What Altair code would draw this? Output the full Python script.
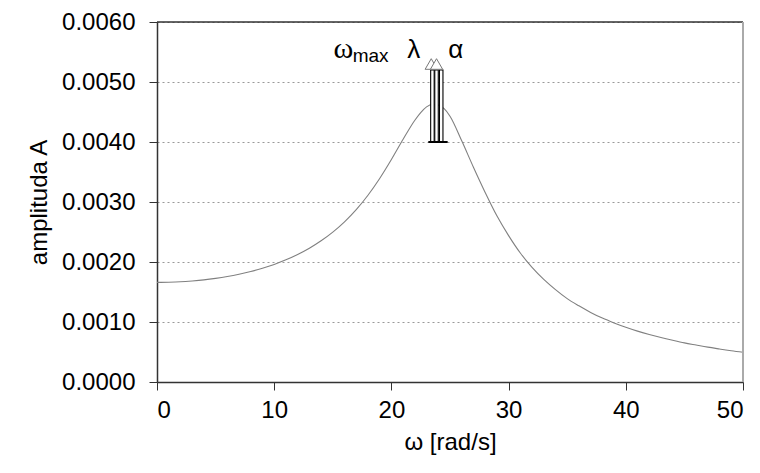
import altair as alt
import pandas as pd

# Curve (omega in rad/s, amplitude in 1e-3 units)
omega = [0, 1, 2, 3, 4, 5, 6, 7, 8, 9, 10, 11, 12, 13, 14, 15, 16, 17, 18, 19,
         20, 21, 22, 22.5, 23, 23.5, 24, 24.5, 25, 26, 27, 28, 29, 30, 31, 32, 33,
         34, 35, 36, 37, 38, 39, 40, 41, 42, 43, 44, 45, 46, 47, 48, 49, 50]
amp_e3 = [1.660, 1.663, 1.670, 1.684, 1.702, 1.727, 1.758, 1.796, 1.841, 1.896,
          1.960, 2.036, 2.125, 2.229, 2.353, 2.498, 2.670, 2.873, 3.113, 3.392,
          3.708, 4.045, 4.362, 4.490, 4.585, 4.625, 4.615, 4.555, 4.430, 4.020,
          3.580, 3.160, 2.770, 2.440, 2.150, 1.910, 1.710, 1.540, 1.390, 1.270,
          1.160, 1.065, 0.985, 0.913, 0.848, 0.792, 0.741, 0.695, 0.652, 0.616,
          0.581, 0.550, 0.520, 0.495]
amplitude = [a / 1000 for a in amp_e3]

# Markers for omega_max, lambda, alpha
marker_omega = [23.5, 23.85, 24.25]
marker_base = 0.0040
marker_top = 0.0052
head_omega = [23.4, 23.85]
head_amp = 0.0053
label_text = ["ω", "max", "λ", "α"]

y_ticks = [0, 0.001, 0.002, 0.003, 0.004, 0.005, 0.006]
x_ticks = [0, 10, 20, 30, 40, 50]

FONT = "Liberation Sans"

df = pd.DataFrame({"omega": omega, "A": amplitude})
dm = pd.DataFrame({"w": marker_omega, "lo": [marker_base] * 3, "hi": [marker_top] * 3})
dh = pd.DataFrame({"w": head_omega, "a": [head_amp] * 2})
one = pd.DataFrame({"k": [0]})

xs = alt.Scale(domain=[0, 50], nice=False, zero=False)
ys = alt.Scale(domain=[0, 0.006], nice=False)

x_axis = alt.Axis(values=x_ticks, format="d", grid=False, title="ω [rad/s]",
                  labelFontSize=24, titleFontSize=24, labelFont=FONT, titleFont=FONT,
                  titleFontWeight="normal", labelColor="black", titleColor="black",
                  domainColor="#333", tickColor="#333", tickSize=8, labelPadding=8,
                  titlePadding=8, domainWidth=1.5)
y_axis = alt.Axis(values=y_ticks, format=".4f", grid=True, gridDash=[2, 3],
                  gridColor="#999", title="amplituda A",
                  labelFontSize=24, titleFontSize=24, labelFont=FONT, titleFont=FONT,
                  titleFontWeight="normal", labelColor="black", titleColor="black",
                  domainColor="#333", tickColor="#333", tickSize=8, labelPadding=14,
                  titlePadding=10, domainWidth=1.5)

curve = alt.Chart(df).mark_line(color="#808080", strokeWidth=1.1,
                                interpolate="monotone").encode(
    x=alt.X("omega:Q", scale=xs, axis=x_axis),
    y=alt.Y("A:Q", scale=ys, axis=y_axis),
)

top_rule = alt.Chart(one).mark_rule(color="#333", strokeWidth=1.5).encode(
    y=alt.datum(0.006), x=alt.value(0), x2=alt.value(586))
right_rule = alt.Chart(one).mark_rule(color="#aaa", strokeWidth=2).encode(
    x=alt.datum(50), y=alt.value(0), y2=alt.value(360))

shafts = alt.Chart(dm).mark_rect(fill="white", stroke="black", strokeWidth=1.1,
                                 width=3.5).encode(
    x=alt.X("w:Q", scale=xs),
    y=alt.Y("lo:Q", scale=ys),
    y2="hi:Q",
)

heads = alt.Chart(dh).mark_point(shape="triangle-up", filled=True, fill="white",
                                 stroke="#777", strokeWidth=1, size=150, opacity=1).encode(
    x=alt.X("w:Q", scale=xs),
    y=alt.Y("a:Q", scale=ys),
)

base_bar = alt.Chart(one).mark_rule(color="black", strokeWidth=2).encode(
    x=alt.datum(23.15), x2=alt.datum(24.8), y=alt.datum(marker_base))

txt_kw = dict(color="black", baseline="alphabetic", fontWeight="normal")


def label(i, size, align, xv, yv, font=FONT):
    return alt.Chart(pd.DataFrame({"t": [label_text[i]]})).mark_text(
        fontSize=size, align=align, font=font, **txt_kw).encode(
        text="t:N", x=alt.datum(xv), y=alt.datum(yv))


t_omega = label(0, 30, "center", 15.9, 0.00540, "Liberation Serif")
t_max = label(1, 19, "left", 16.7, 0.00533)
t_lambda = label(2, 26, "center", 21.9, 0.00540)
t_alpha = label(3, 26, "center", 25.5, 0.00540)

chart = alt.layer(curve, top_rule, right_rule, shafts, base_bar, heads,
                  t_omega, t_max, t_lambda, t_alpha).properties(
    width=586, height=360,
    autosize=alt.AutoSizeParams(type="none"),
    padding={"left": 149, "top": 14, "right": 9, "bottom": 83},
    background="white",
).configure_view(stroke=None)

chart.save("out.html", embed_options={"renderer": "svg", "actions": False})
